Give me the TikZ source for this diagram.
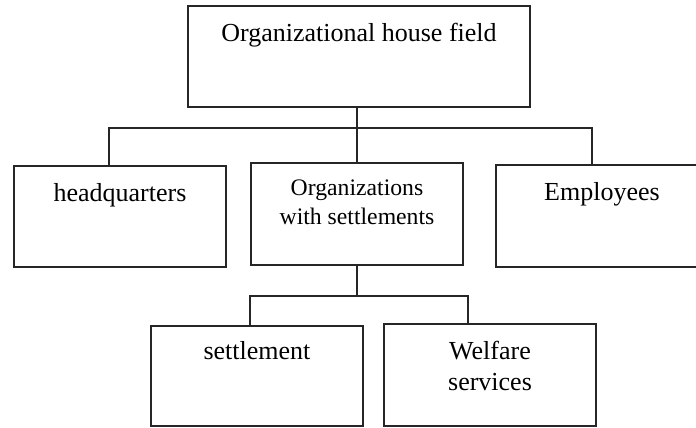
\documentclass[tikz,border=0pt]{standalone}
\usepackage{fontspec}
\setmainfont{Liberation Serif}
\begin{document}
\begin{tikzpicture}[x=1bp,y=-1bp,
  box/.style={draw=black!85, line width=1.3bp, rectangle, inner sep=0pt, fill=none},
  lbl/.style={inner sep=0pt, anchor=base, align=center, text=black,
    font=\fontsize{26bp}{31bp}\selectfont},
  small/.style={font=\fontsize{23.7bp}{29bp}\selectfont},
  wire/.style={draw=black!85, line width=1.3bp}]
\useasboundingbox (0,0) rectangle (696,427);
\clip (0,0) rectangle (696,427);
\fill[white] (0,0) rectangle (696,427);

% boxes
\node[box, minimum width=342bp, minimum height=101bp] (top) at (359,56.5) {};
\node[box, minimum width=212bp, minimum height=101bp] (hq)  at (120,216.5) {};
\node[box, minimum width=212bp, minimum height=102bp] (org) at (357,214) {};
\node[box, minimum width=212bp, minimum height=102bp] (emp) at (602,216) {};
\node[box, minimum width=212bp, minimum height=100bp] (set) at (257,376) {};
\node[box, minimum width=212bp, minimum height=102bp] (wel) at (490,375) {};

% labels (base anchor of a two-line label sits on its last line)
\node[lbl] (toptxt) at ([yshift=-36bp]top.north) {Organizational house field};
\node[lbl] (hqtxt)  at ([yshift=-36bp]hq.north) {headquarters};
\node[lbl, small] (orgtxt) at ([yshift=-62bp]org.north) {Organizations\\with settlements};
\node[lbl] (emptxt) at ([yshift=-36bp]emp.north) {Employees};
\node[lbl] (settxt) at ([yshift=-34bp]set.north) {settlement};
\node[lbl] (weltxt) at ([yshift=-67bp]wel.north) {Welfare\\services};

% connectors, first level
\coordinate (j1) at (357,128);
\draw[wire] (org.north |- top.south) -- (org.north);
\draw[wire] ([xshift=-11bp]hq.north) |- (j1) -| ([xshift=-10bp]emp.north);

% connectors, second level
\coordinate (j2) at (357,296);
\draw[wire] (org.south) -- (j2);
\draw[wire] ([xshift=-7bp]set.north) |- (j2) -| ([xshift=-22bp]wel.north);
\end{tikzpicture}
\end{document}
